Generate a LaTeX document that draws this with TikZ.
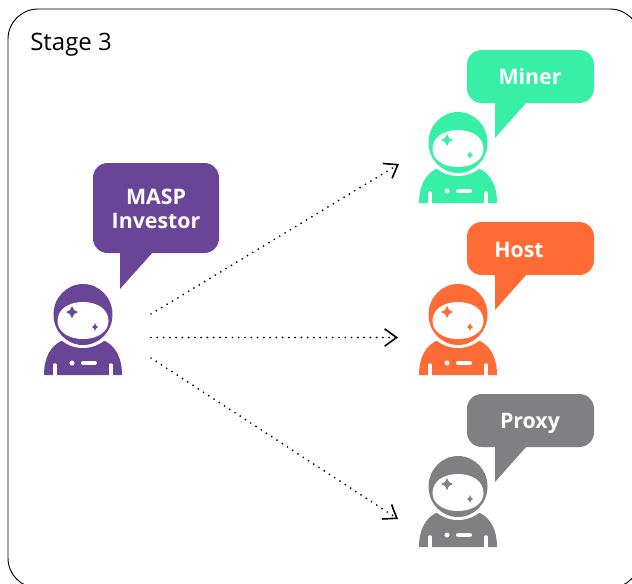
\documentclass[tikz,border=0pt]{standalone}
\usepackage{fontspec}
\setmainfont{Open Sans}
\usetikzlibrary{arrows.meta}
\definecolor{investorcol}{HTML}{6A4497}
\definecolor{minercol}{HTML}{38EFA8}
\definecolor{hostcol}{HTML}{FF6B35}
\definecolor{proxycol}{HTML}{808083}
\tikzset{
  pics/astronaut/.style={code={
    \fill[#1] (-39,0) .. controls (-39,-18) and (-32,-29) .. (-22,-34) -- (22,-34) .. controls (32,-29) and (39,-18) .. (39,0) -- cycle;
    \fill[white] (0,-60) ellipse (33.5 and 33);
    \fill[#1] (0,-60.5) ellipse (29.5 and 30.5);
    \fill[white] (-25.5,-54) .. controls (-25.5,-66) and (-14,-73) .. (0,-73) .. controls (14,-73) and (25.5,-66) .. (25.5,-54) .. controls (25.5,-43) and (14,-36) .. (0,-36) .. controls (-14,-36) and (-25.5,-43) .. (-25.5,-54) -- cycle;
    \fill[#1] (-11,-69) -- (-9,-65) -- (-5,-63) -- (-9,-61) -- (-11,-57) -- (-13,-61) -- (-17,-63) -- (-13,-65) -- cycle;
    \fill[#1] (12,-52) -- (13,-49.5) -- (15,-48) -- (13,-46.5) -- (12,-44) -- (11,-46.5) -- (9,-48) -- (11,-49.5) -- cycle;
    \fill[white] (-11,-12) circle (2.5);
    \draw[white, line width=3pt, line cap=round] (0,-12) -- (12,-12);
    \draw[white, line width=2.6pt, line cap=round] (-28,1) -- (-28,-10);
    \draw[white, line width=2.6pt, line cap=round] (28,1) -- (28,-10);
  }},
  flow/.style={line width=1.45pt, line cap=round, dash pattern=on 0pt off 4.7pt, -{Straight Barb[length=9pt, width=13pt, line width=1.2pt]}},
  bubbletext/.style={text=white, font=\bfseries\fontsize{16}{18}\selectfont, align=center, inner sep=0pt}
}
\begin{document}
\begin{tikzpicture}[x=.75pt, y=-.75pt]
\useasboundingbox (0,0) rectangle (632,583);
\clip (0,0) rectangle (632,583);
% frame
\draw[line width=.7pt, rounded corners=22.5pt] (8,9) rectangle (640,588);
\node[font=\fontsize{18}{20}\selectfont, anchor=west, inner sep=0pt] (stage) at (30,44.5) {Stage 3};

% the four people
\pic at (83,375) {astronaut=investorcol};
\pic at (458,203) {astronaut=minercol};
\pic at (458,375) {astronaut=hostcol};
\pic at (458,547) {astronaut=proxycol};

% bubbles
\fill[investorcol, rounded corners=11pt] (93,163) rectangle (219,253);
\fill[investorcol] (120,252) -- (120,289) -- (153,252) -- cycle;
\node[bubbletext] (investor) at (156,209) {MASP\\Investor};

\fill[minercol, rounded corners=11pt] (467,50) rectangle (594,103);
\fill[minercol] (495,102) -- (495,138) -- (527,102) -- cycle;
\node[bubbletext] (miner) at (530,76.5) {Miner};

\fill[hostcol, rounded corners=11pt] (467,222) rectangle (594,275);
\fill[hostcol] (495,274) -- (495,310) -- (527,274) -- cycle;
\node[bubbletext] (host) at (519,249.5) {Host};

\fill[proxycol, rounded corners=11pt] (467,394) rectangle (594,447);
\fill[proxycol] (495,446) -- (495,482) -- (527,446) -- cycle;
\node[bubbletext] (proxy) at (530,423) {Proxy};

% arrows
\coordinate (outminer) at (151,314);
\coordinate (outhost) at (151,337.5);
\coordinate (outproxy) at (151,358);
\coordinate (inminer) at (399,164);
\coordinate (inhost) at (398,337.5);
\coordinate (inproxy) at (398,519);
\draw[flow] (outminer) -- (inminer);
\draw[flow] (outhost) -- (inhost);
\draw[flow] (outproxy) -- (inproxy);
\end{tikzpicture}
\end{document}
